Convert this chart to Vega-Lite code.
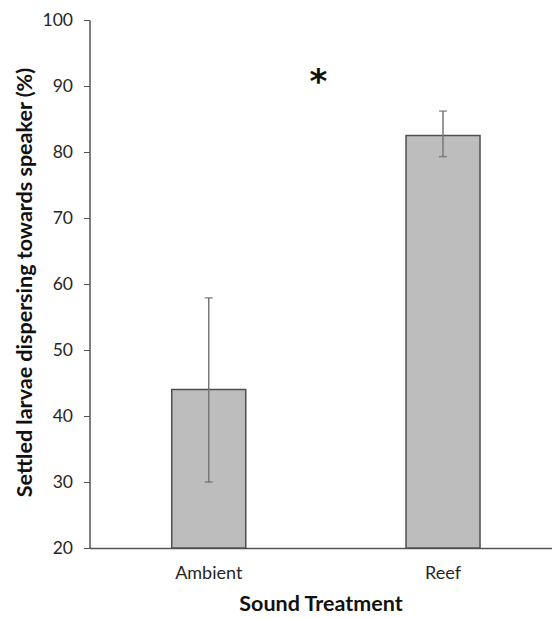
{
  "$schema": "https://vega.github.io/schema/vega-lite/v6.json",
  "autosize": "none",
  "width": 462,
  "height": 528,
  "padding": {"left": 89.5, "top": 20, "right": 0, "bottom": 70},
  "background": "white",
  "config": {
    "view": {"stroke": null},
    "font": "Lato"
  },
  "datasets": {
    "bars": [
      {"treatment": "Ambient", "value": 44.0, "lower": 30.0, "upper": 57.9},
      {"treatment": "Reef", "value": 82.5, "lower": 79.3, "upper": 86.2}
    ],
    "sig": [
      {"treatment": "Ambient", "y": 90.4, "label": "*"}
    ]
  },
  "layer": [
    {
      "data": {"name": "bars"},
      "mark": {"type": "bar", "fill": "#bdbdbd", "stroke": "#505050", "strokeWidth": 1.5, "width": 74},
      "encoding": {
        "x": {
          "field": "treatment",
          "type": "nominal",
          "sort": ["Ambient", "Reef"],
          "scale": {"paddingInner": 0.684, "paddingOuter": 0.328, "align": 0.535},
          "axis": {
            "title": "Sound Treatment",
            "labelAngle": 0,
            "ticks": false,
            "domainColor": "#555555",
            "domainWidth": 1.5,
            "labelFontSize": 18,
            "labelColor": "#262626",
            "labelPadding": 16,
            "titleFontSize": 21.5,
            "titleFontWeight": "bold",
            "titleColor": "#111111",
            "titlePadding": 11
          }
        },
        "y": {
          "field": "value",
          "type": "quantitative",
          "scale": {"domain": [20, 100], "nice": false, "zero": false},
          "axis": {
            "title": "Settled larvae dispersing towards speaker (%)",
            "values": [20, 30, 40, 50, 60, 70, 80, 90, 100],
            "grid": false,
            "tickSize": 6,
            "tickColor": "#555555",
            "domainColor": "#555555",
            "domainWidth": 1.5,
            "labelFontSize": 17.5,
            "labelColor": "#262626",
            "labelPadding": 11,
            "titleFontSize": 21.5,
            "titleFontWeight": "bold",
            "titleColor": "#111111",
            "titlePadding": 6,
            "titleY": 262
          }
        },
        "y2": {"datum": 20}
      }
    },
    {
      "data": {"name": "bars"},
      "mark": {"type": "rule", "color": "#777777", "strokeWidth": 1.5},
      "encoding": {
        "x": {"field": "treatment", "type": "nominal", "sort": ["Ambient", "Reef"]},
        "y": {"field": "lower", "type": "quantitative"},
        "y2": {"field": "upper"}
      }
    },
    {
      "data": {"name": "bars"},
      "mark": {"type": "tick", "color": "#666666", "thickness": 1.5, "size": 8},
      "encoding": {
        "x": {"field": "treatment", "type": "nominal", "sort": ["Ambient", "Reef"]},
        "y": {"field": "lower", "type": "quantitative"}
      }
    },
    {
      "data": {"name": "bars"},
      "mark": {"type": "tick", "color": "#666666", "thickness": 1.5, "size": 8},
      "encoding": {
        "x": {"field": "treatment", "type": "nominal", "sort": ["Ambient", "Reef"]},
        "y": {"field": "upper", "type": "quantitative"}
      }
    },
    {
      "data": {"name": "sig"},
      "mark": {"type": "text", "fontSize": 34, "fontWeight": "bold", "font": "DejaVu Sans", "baseline": "middle", "align": "center", "color": "#111111"},
      "encoding": {
        "x": {"field": "treatment", "type": "nominal", "sort": ["Ambient", "Reef"], "bandPosition": 1.98},
        "y": {"field": "y", "type": "quantitative"},
        "text": {"field": "label"}
      }
    }
  ]
}
